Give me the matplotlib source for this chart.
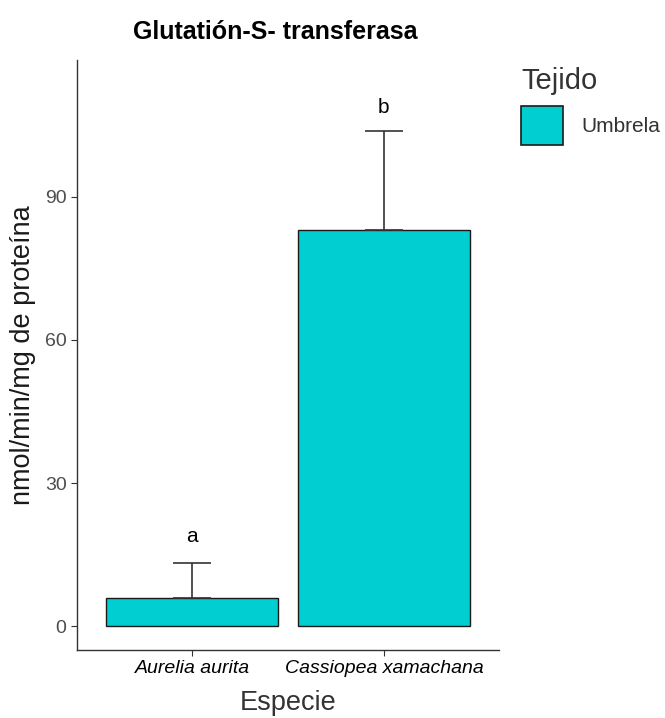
import matplotlib.pyplot as plt
from matplotlib.patches import Patch

plt.rcParams['font.family'] = ['Liberation Sans', 'DejaVu Sans']

especies = ['Aurelia aurita', 'Cassiopea xamachana']
medias = [5.9, 83.0]
desv = [7.3, 20.8]
letras = ['a', 'b']
letra_y = [18.7, 108.7]

fig = plt.figure(figsize=(6.65, 7.18), dpi=100)
ax = fig.add_axes([77 / 665, 1 - 650 / 718, 422 / 665, 590 / 718])

x = range(len(especies))
ax.bar(x, medias, width=0.9, color='#00CED1', edgecolor='#1a1a1a', linewidth=1.0, zorder=2)
ax.errorbar(x, medias, yerr=[[0, 0], desv], fmt='none', ecolor='#333333',
            elinewidth=1.2, capsize=13.5, capthick=1.2, zorder=3)
for xi, lab, yy in zip(x, letras, letra_y):
    ax.text(xi, yy, lab, ha='center', va='center', fontsize=15)

ax.set_xlim(-0.6, 1.6)
ax.set_ylim(-5.0, 118.7)
ax.set_yticks([0, 30, 60, 90])
ax.set_xticks(list(x))
ax.set_xticklabels(especies, style='italic', fontsize=14, color='black')
ax.tick_params(axis='y', labelsize=14, labelcolor='#4d4d4d', color='#333333', length=4)
ax.tick_params(axis='x', color='#333333', length=4)
for s in ['top', 'right']:
    ax.spines[s].set_visible(False)
for s in ['left', 'bottom']:
    ax.spines[s].set_linewidth(1.0)
    ax.spines[s].set_color('#333333')

ax.set_xlabel('Especie', fontsize=19.5, color='#333333', labelpad=9)
ax.set_ylabel('nmol/min/mg de proteína', fontsize=19.5, color='#1a1a1a', labelpad=6)
ax.set_title('Glutatión-S- transferasa', fontsize=18, fontweight='bold', pad=15, x=0.47)

handles = [Patch(facecolor='#00CED1', edgecolor='#1a1a1a', linewidth=1.2, label='Umbrela')]
leg = fig.legend(handles=handles, title='Tejido', loc='upper left',
                 bbox_to_anchor=(513 / 665, 1 - 59 / 718), frameon=False,
                 fontsize=15, title_fontsize=21, handlelength=2.0, handleheight=2.5,
                 handletextpad=0.9, borderaxespad=0)
leg._legend_box.align = 'left'
leg.get_title().set_color('#333333')
for t in leg.get_texts():
    t.set_color('#333333')

fig.savefig('out.png', dpi=100)
